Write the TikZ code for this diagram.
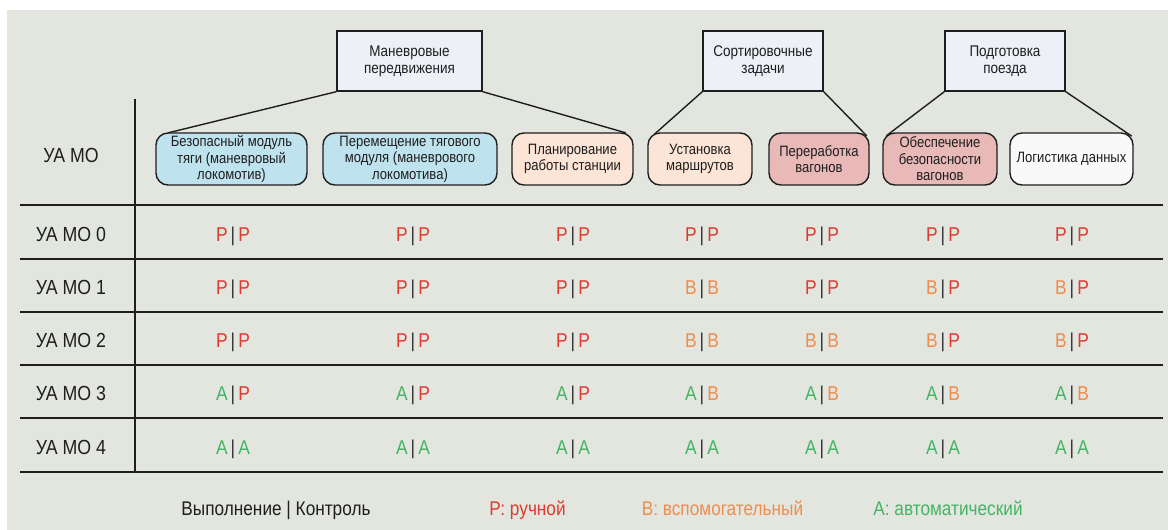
\documentclass[tikz,border=0pt]{standalone}
\usepackage{fontspec}
\setmainfont{Liberation Sans}[FakeStretch=0.87]
\usetikzlibrary{calc}

\definecolor{bgpanel}{RGB}{226,230,223}
\definecolor{hdrfill}{RGB}{237,240,247}
\definecolor{fblue}{RGB}{191,227,238}
\definecolor{fpeach}{RGB}{252,228,214}
\definecolor{fpink}{RGB}{232,185,183}
\definecolor{fwhite}{RGB}{249,249,249}
\definecolor{ink}{RGB}{30,30,30}
\definecolor{cred}{RGB}{224,58,48}
\definecolor{cor}{RGB}{240,140,78}
\definecolor{cgr}{RGB}{68,180,100}
\definecolor{cbar}{RGB}{50,50,50}

% level letters and the "execution | control" pair
\newcommand{\cR}{\textcolor{cred}{Р}}
\newcommand{\cB}{\textcolor{cor}{В}}
\newcommand{\cA}{\textcolor{cgr}{А}}
\newcommand{\vpair}[2]{#1\hspace{3pt}\textcolor{cbar}{|}\hspace{3pt}#2}
\newcommand{\lvl}[1]{\csname c#1\endcsname}

\begin{document}
\begin{tikzpicture}[x=1pt,y=-1pt,
  groupbox/.style={draw=ink, line width=1.4pt, fill=hdrfill, inner sep=0pt,
    minimum height=60, align=center, text=ink,
    font=\fontsize{15.5}{17}\selectfont},
  taskbox/.style={draw=ink, line width=1.4pt, rounded corners=12pt, inner sep=0pt,
    minimum height=52, align=center, text=ink,
    font=\fontsize{15}{16.5}\selectfont},
  link/.style={draw=ink, line width=1.4pt},
  rule/.style={draw=ink, line width=2pt},
  rowlabel/.style={anchor=base, text=ink, inner sep=0pt,
    font=\fontsize{20.4}{22}\selectfont},
  cell/.style={anchor=base, inner sep=0pt, font=\fontsize{20}{22}\selectfont},
  legend/.style={anchor=base, inner sep=0pt, font=\fontsize{19.8}{22}\selectfont}]

\useasboundingbox (0,0) rectangle (1168,530);
\fill[white] (0,0) rectangle (1168,530);
\fill[bgpanel] (7,10) rectangle (1168,530);

% group headers
\node[groupbox, minimum width=145] (g1) at (409.5,61) {Маневровые\\передвижения};
\node[groupbox, minimum width=120] (g2) at (763,61) {Сортировочные\\задачи};
\node[groupbox, minimum width=120] (g3) at (1005,61) {Подготовка\\поезда};

% tasks
\node[taskbox, fill=fblue, minimum width=151] (n1) at (231.5,159) {Безопасный модуль\\тяги (маневровый\\локомотив)};
\node[taskbox, fill=fblue, minimum width=174] (n2) at (410,159) {Перемещение тягового\\модуля (маневрового\\локомотива)};
\node[taskbox, fill=fpeach, minimum width=121] (n3) at (572.5,159) {Планирование\\работы станции};
\node[taskbox, fill=fpeach, minimum width=104] (n4) at (700,159) {Установка\\маршрутов};
\node[taskbox, fill=fpink, minimum width=100] (n5) at (819,159) {Переработка\\вагонов};
\node[taskbox, fill=fpink, minimum width=114] (n6) at (940,159) {Обеспечение\\безопасности\\вагонов};
\node[taskbox, fill=fwhite, minimum width=123] (n7) at (1071.5,159) {Логистика данных};

% group-to-task links
\draw[link] (g1.south west) -- ($(n1.north west)+(13,0.5)$);
\draw[link] (g1.south east) -- ($(n3.north east)+(-8,0.5)$);
\draw[link] (g2.south west) -- ($(n4.north west)+(7,2)$);
\draw[link] (g2.south east) -- ($(n5.north east)+(-3,3.5)$);
\draw[link] (g3.south west) -- ($(n6.north west)+(4,3.5)$);
\draw[link] (g3.south east) -- ($(n7.north east)+(-2,3.8)$);

% table rules
\draw[rule] (135,99) -- (135,472);
\foreach \ry in {205,259,312,365,418,472}
  \draw[rule] (20,\ry) -- (1163,\ry);

% row labels
\node[rowlabel] (hdr) at (71,162.5) {УА МО};
\node[rowlabel] (r0) at (71,241) {УА МО 0};
\node[rowlabel] (r1) at (71,294.5) {УА МО 1};
\node[rowlabel] (r2) at (71,347.5) {УА МО 2};
\node[rowlabel] (r3) at (71,400.5) {УА МО 3};
\node[rowlabel] (r4) at (71,454) {УА МО 4};

% level cells
\foreach \x/\a/\b [count=\i] in {233/R/R,413/R/R,573/R/R,702/R/R,822/R/R,943/R/R,1072/R/R}
  \node[cell] (c0-\i) at (\x,241) {\vpair{\lvl{\a}}{\lvl{\b}}};
\foreach \x/\a/\b [count=\i] in {233/R/R,413/R/R,573/R/R,702/B/B,822/R/R,943/B/R,1072/B/R}
  \node[cell] (c1-\i) at (\x,294.5) {\vpair{\lvl{\a}}{\lvl{\b}}};
\foreach \x/\a/\b [count=\i] in {233/R/R,413/R/R,573/R/R,702/B/B,822/B/B,943/B/R,1072/B/R}
  \node[cell] (c2-\i) at (\x,347.5) {\vpair{\lvl{\a}}{\lvl{\b}}};
\foreach \x/\a/\b [count=\i] in {233/A/R,413/A/R,573/A/R,702/A/B,822/A/B,943/A/B,1072/A/B}
  \node[cell] (c3-\i) at (\x,400.5) {\vpair{\lvl{\a}}{\lvl{\b}}};
\foreach \x/\a/\b [count=\i] in {233/A/A,413/A/A,573/A/A,702/A/A,822/A/A,943/A/A,1072/A/A}
  \node[cell] (c4-\i) at (\x,454) {\vpair{\lvl{\a}}{\lvl{\b}}};

% legend
\node[legend, text=ink] (lg0) at (276,515) {Выполнение | Контроль};
\node[legend, text=cred] (lg1) at (527.5,515) {Р: ручной};
\node[legend, text=cor] (lg2) at (722.5,515) {В: вспомогательный};
\node[legend, text=cgr] (lg3) at (948,515) {А: автоматический};
\end{tikzpicture}
\end{document}
